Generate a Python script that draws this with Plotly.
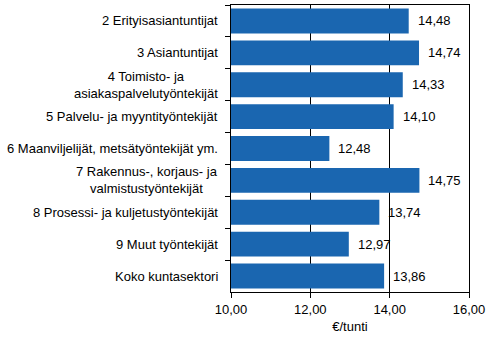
import plotly.graph_objects as go

categories = [
    "2 Erityisasiantuntijat",
    "3 Asiantuntijat",
    "4 Toimisto- ja<br>asiakaspalvelutyöntekijät",
    "5 Palvelu- ja myyntityöntekijät",
    "6 Maanviljelijät, metsätyöntekijät ym.",
    "7 Rakennus-, korjaus- ja<br>valmistustyöntekijät",
    "8 Prosessi- ja kuljetustyöntekijät",
    "9 Muut työntekijät",
    "Koko kuntasektori",
]
values = [14.48, 14.74, 14.33, 14.10, 12.48, 14.75, 13.74, 12.97, 13.86]
x_ticks = [10, 12, 14, 16]
x_title = "€/tunti"

FONT = "Liberation Sans, Arial, sans-serif"
BAR = "#1a66b0"

fig = go.Figure(go.Bar(
    x=values, y=categories, base=None, orientation="h",
    marker=dict(color=BAR, line=dict(width=0)),
    hoverinfo="skip",
))

ann = []
for c, v in zip(categories, values):
    ann.append(dict(x=v, y=c, xref="x", yref="y", text=f"{v:.2f}".replace(".", ","),
                    showarrow=False, xanchor="left", xshift=7,
                    font=dict(family=FONT, size=13, color="black")))
    ann.append(dict(x=0, y=c, xref="paper", yref="y", text=c, showarrow=False,
                    xanchor="right", align="center", xshift=-11,
                    font=dict(family=FONT, size=13, color="black")))

fig.update_layout(
    width=495, height=342,
    margin=dict(l=231, r=26, t=5, b=50),
    paper_bgcolor="white", plot_bgcolor="white",
    separators=", ",
    bargap=0.22,
    showlegend=False,
    font=dict(family=FONT, size=13, color="black"),
    annotations=ann,
    xaxis=dict(range=[10, 16], tickvals=x_ticks, tickformat=".2f",
               showgrid=True, gridcolor="black", gridwidth=1,
               showline=True, linecolor="black", linewidth=1, mirror=True,
               ticks="outside", ticklen=5, tickcolor="black",
               zeroline=False,
               title=dict(text=x_title, font=dict(size=13), standoff=6),
               tickfont=dict(size=13)),
    yaxis=dict(autorange="reversed", showticklabels=False,
               showline=True, linecolor="black", linewidth=1, mirror=True,
               ticks="outside", ticklen=5, tickcolor="black", tickson="boundaries",
               showgrid=False),
)

fig.write_html("out.html")
